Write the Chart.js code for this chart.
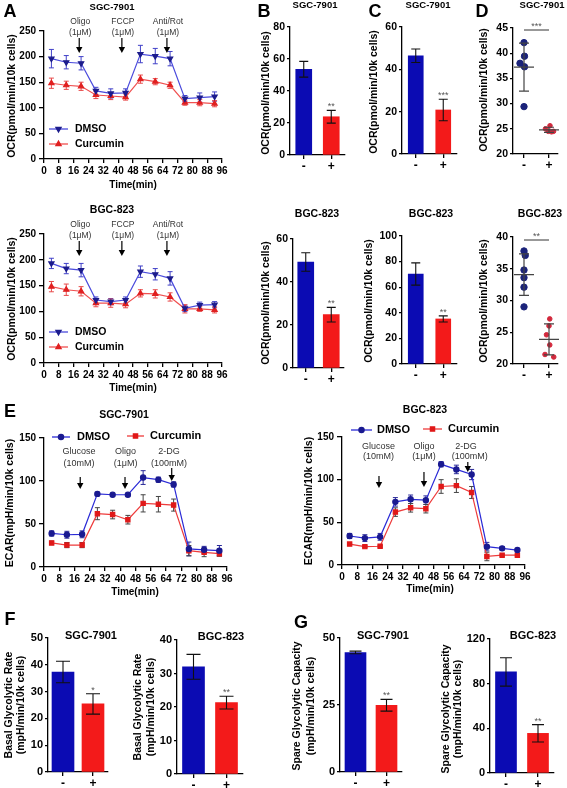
<!DOCTYPE html>
<html>
<head>
<meta charset="utf-8">
<script src="https://cdn.jsdelivr.net/npm/chart.js@4.4.0/dist/chart.umd.min.js"></script>
<style>
  body { margin: 0; background: #fff; }
  #wrap { position: relative; width: 567px; height: 788px; overflow: hidden; }
  #wrap canvas { position: absolute; left: 0; top: 0; }
</style>
</head>
<body>
<div id="wrap"></div>
<script>
// ---- data ----
const times = [4, 12, 20, 28, 36, 44, 52, 60, 68, 76, 84, 92];
const groups = ['-', '+'];

// A: OCR time course
const ocrSgcDmso    = [196, 189, 187, 133, 128, 129, 205, 201, 196, 118, 120, 122];
const ocrSgcDmsoErr = [18, 13, 13, 7, 9, 8, 17, 15, 14, 6, 9, 9];
const ocrSgcCur     = [148, 144, 142, 125, 123, 121, 156, 151, 144, 110, 110, 108];
const ocrSgcCurErr  = [10, 8, 8, 7, 7, 6, 8, 6, 6, 5, 6, 6];
const ocrBgcDmso    = [193, 183, 180, 122, 119, 122, 177, 172, 164, 106, 112, 113];
const ocrBgcDmsoErr = [10, 10, 13, 6, 6, 6, 11, 11, 13, 6, 6, 6];
const ocrBgcCur     = [148, 142, 139, 116, 116, 114, 135, 134, 128, 105, 105, 103];
const ocrBgcCurErr  = [10, 11, 9, 7, 8, 7, 7, 8, 8, 8, 5, 6];

// B, C: OCR bars
const basalSgc = [53.6, 23.9], basalSgcErr = [4.9, 4];
const basalBgc = [49.3, 24.8], basalBgcErr = [4.3, 3.4];
const maxSgc = [46.4, 20.8], maxSgcErr = [3.2, 5.1];
const maxBgc = [70.3, 35.2], maxBgcErr = [8.7, 2.4];

// D: dot plots
const dotSgcDmso = [42.1, 39.4, 38.0, 37.3, 29.4];
const dotSgcDmsoX = [0, 0.02, -0.16, 0.02, 0];
const dotSgcCur = [25.6, 25.0, 24.5, 24.4, 24.5];
const dotSgcCurX = [0.04, -0.14, -0.03, 0.1, 0.18];
const dotBgcDmso = [37.8, 37.1, 34.8, 33.6, 32.1, 29.0];
const dotBgcDmsoX = [0, 0.05, 0, 0, 0, 0];
const dotBgcCur = [27.1, 26.0, 24.6, 23.0, 21.5, 21.1];
const dotBgcCurX = [0.03, 0, -0.1, 0.03, -0.16, 0.19];

// E: ECAR time course
const ecarSgcDmso    = [39, 37.5, 38, 85, 84, 84, 104, 101.5, 96, 21, 20, 19];
const ecarSgcDmsoErr = [3, 4, 4, 2, 1.5, 1.5, 8, 3, 3, 8, 4, 6];
const ecarSgcCur     = [28, 25.5, 25.5, 62, 61, 55, 74, 73, 72, 19, 17, 15.5];
const ecarSgcCurErr  = [2, 3, 3, 7, 5, 5, 10, 9, 7, 6, 5, 3];
const ecarBgcDmso    = [34, 31.5, 33, 74, 77, 76, 118, 112, 106, 21.5, 19.5, 17.5];
const ecarBgcDmsoErr = [3, 4, 4, 5, 5, 5, 3, 5, 6, 5, 2, 2];
const ecarBgcCur     = [24.5, 21.5, 22, 62, 67, 66, 92, 93, 85, 10, 11.5, 11.5];
const ecarBgcCurErr  = [1, 1, 1, 5, 5, 5, 8, 8, 7, 5, 1, 1];

// F, G: glycolysis bars
const glyRateSgc = [37.3, 25.4], glyRateSgcErr = [4, 3.8];
const glyRateBgc = [32, 21.3], glyRateBgcErr = [3.7, 1.9];
const spareSgc = [44.6, 24.9], spareSgcErr = [0.5, 2.2];
const spareBgc = [90.5, 35.5], spareBgcErr = [12.7, 7.8];

// ---- drawing setup ----
const PW = 567, PH = 788;
const CH = PH + 40; // canvas a bit taller than the page so bottom tick labels have room
const FONT = '"Liberation Sans", Arial, Helvetica, sans-serif';
const BLUE_BAR = '#0b0bb3', RED_BAR = '#f31a1a';
Chart.defaults.font.family = FONT;
Chart.defaults.color = '#000';

const wrap = document.getElementById('wrap');

function T(ctx, s, x, y, size, bold, o = {}) {
    ctx.save();
    ctx.font = (bold ? 'bold ' : '') + size + 'px ' + FONT;
    ctx.fillStyle = o.color || '#000';
    ctx.textAlign = o.align || 'center';
    ctx.textBaseline = o.base || 'middle';
    ctx.translate(x, y);
    if (o.rot) ctx.rotate(-Math.PI / 2);
    ctx.fillText(s, 0, 0);
    ctx.restore();
}

function arrowDown(ctx, x, y1, y2) {
    ctx.save();
    ctx.strokeStyle = '#000';
    ctx.fillStyle = '#000';
    ctx.lineWidth = 1.2;
    ctx.beginPath();
    ctx.moveTo(x, y1);
    ctx.lineTo(x, y2 - 5);
    ctx.stroke();
    ctx.beginPath();
    ctx.moveTo(x - 3.2, y2 - 6);
    ctx.lineTo(x + 3.2, y2 - 6);
    ctx.lineTo(x, y2);
    ctx.closePath();
    ctx.fill();
    ctx.restore();
}

function legendRow(ctx, x1, x2, y, lineColor, mark, label, tx, size) {
    ctx.save();
    ctx.strokeStyle = lineColor;
    ctx.lineWidth = 1.3;
    ctx.beginPath();
    ctx.moveTo(x1, y);
    ctx.lineTo(x2, y);
    ctx.stroke();
    ctx.fillStyle = mark.color;
    ctx.strokeStyle = mark.color;
    Chart.helpers.drawPoint(ctx, {pointStyle: mark.style, rotation: mark.rot || 0, radius: mark.r, borderWidth: 1}, (x1 + x2) / 2, y);
    ctx.restore();
    T(ctx, label, tx, y, size, true, {align: 'left'});
}

function drawErrs(c) {
    const ctx = c.ctx, ys = c.scales.y;
    c.data.datasets.forEach((ds, di) => {
        if (!ds.errs) return;
        const meta = c.getDatasetMeta(di);
        meta.data.forEach((el, i) => {
            const v = ds.data[i];
            const val = typeof v === 'object' ? v.y : v;
            const y1 = ys.getPixelForValue(val + ds.errs[i]);
            const y2 = ys.getPixelForValue(val - ds.errs[i]);
            const w = ds.capW;
            ctx.save();
            ctx.strokeStyle = ds.errColor;
            ctx.lineWidth = ds.errWidth || 1;
            ctx.beginPath();
            ctx.moveTo(el.x, y1); ctx.lineTo(el.x, y2);
            ctx.moveTo(el.x - w, y1); ctx.lineTo(el.x + w, y1);
            ctx.moveTo(el.x - w, y2); ctx.lineTo(el.x + w, y2);
            ctx.stroke();
            ctx.restore();
        });
    });
}

const errPlugin = {
    id: 'errs',
    beforeDatasetsDraw(c) { if (c.config.type === 'line') drawErrs(c); },
    afterDatasetsDraw(c) { if (c.config.type !== 'line') drawErrs(c); }
};

function linAxis(min, max, step, size, tickLen = 5, pad = 3) {
    return {
        type: 'linear', min, max,
        ticks: {stepSize: step, autoSkip: false, maxRotation: 0, minRotation: 0, padding: pad, color: '#000', font: {size, weight: 'bold'}},
        grid: {drawOnChartArea: false, drawTicks: true, tickLength: tickLen, color: '#000', lineWidth: 1.3},
        border: {display: true, color: '#000', width: 1.3}
    };
}

function catAxis() {
    return {
        type: 'category', offset: true,
        ticks: {padding: 0, color: '#000', font: {size: 12, weight: 'bold'}, autoSkip: false, maxRotation: 0},
        grid: {offset: false, drawOnChartArea: false, drawTicks: true, tickLength: 4, color: '#000', lineWidth: 1.3},
        border: {display: true, color: '#000', width: 1.3}
    };
}

// every chart gets a full-page canvas; padding puts its plot box at page coords
function makeChart(type, data, box, scales, deco) {
    const cv = document.createElement('canvas');
    cv.width = PW; cv.height = CH;
    wrap.appendChild(cv);
    const yW = 40, xH = 26;
    scales.y.afterFit = s => { s.width = yW; s.paddingTop = 0; s.paddingBottom = 0; };
    scales.x.afterFit = s => { s.height = xH; s.paddingLeft = 0; s.paddingRight = 0; };
    return new Chart(cv, {
        type, data,
        options: {
            responsive: false, animation: false, devicePixelRatio: 1, events: [],
            layout: {padding: {left: box.l - yW, right: PW - box.r, top: box.t, bottom: CH - box.b - xH}},
            plugins: {legend: {display: false}, tooltip: {enabled: false}},
            scales
        },
        plugins: [errPlugin, {id: 'deco', afterDraw: c => deco(c, c.ctx)}]
    });
}

function pts(xs, ys) { return xs.map((x, i) => ({x, y: ys[i]})); }

// ---- time-course line charts ----
function timePanel(o) {
    return makeChart('line', {
        datasets: [
            {data: pts(times, o.dmso), errs: o.dmsoErr, capW: 2.5, errColor: o.dmsoErrColor,
             borderColor: o.dmsoLine, borderWidth: 1.2, pointStyle: o.dmsoMark.style, pointRotation: o.dmsoMark.rot || 0,
             pointRadius: o.dmsoMark.r, pointBackgroundColor: o.dmsoMark.color, pointBorderColor: o.dmsoMark.color, tension: 0},
            {data: pts(times, o.cur), errs: o.curErr, capW: 2.5, errColor: o.curErrColor,
             borderColor: o.curLine, borderWidth: 1.2, pointStyle: o.curMark.style,
             pointRadius: o.curMark.r, pointBackgroundColor: o.curMark.color, pointBorderColor: o.curMark.color, tension: 0}
        ]
    }, o.box, {x: linAxis(0, 96, 8, 10, 4, 2), y: linAxis(0, o.ymax, o.ystep, 10, 5, 3)}, o.deco);
}

const triDown = {style: 'triangle', rot: 180, r: 3, color: '#1c1c8c'};
const triUp = {style: 'triangle', r: 3, color: '#e02020'};
const dotMk = {style: 'circle', r: 2.6, color: '#1a1a90'};
const sqMk = {style: 'rect', r: 3, color: '#e01818'};

function decoOcr(title, letter, t) {
    return (c, ctx) => {
        const xs = c.scales.x;
        if (letter) T(ctx, letter, 10, 12, 18, true);
        T(ctx, title, 112, t - 24, title === 'SGC-7901' ? 9.5 : 10.5, true);
        const ann = [[19, 'Oligo', '(1μM)'], [42, 'FCCP', '(1μM)'], [66.3, 'Anti/Rot', '(1μM)']];
        ann.forEach(a => {
            const x = xs.getPixelForValue(a[0]);
            T(ctx, a[1], x + 1, t - 9, 8.5, false, {color: '#333'});
            T(ctx, a[2], x + 1, t + 2, 8.5, false, {color: '#333'});
            arrowDown(ctx, x, t + 7, t + 22);
        });
        legendRow(ctx, 49, 68, t + 98, '#4b4bdc', triDown, 'DMSO', 75, 10.5);
        legendRow(ctx, 49, 68, t + 113, '#f05050', triUp, 'Curcumin', 75, 10.5);
        T(ctx, 'OCR(pmol/min/10k cells)', 12.5, t + 65, 10.5, true, {rot: true});
        T(ctx, 'Time(min)', 133, t + 154, 10, true);
    };
}

timePanel({box: {l: 44, r: 222, t: 31, b: 159}, ymax: 250, ystep: 50,
    dmso: ocrSgcDmso, dmsoErr: ocrSgcDmsoErr, cur: ocrSgcCur, curErr: ocrSgcCurErr,
    dmsoLine: '#4b4bdc', curLine: '#f05050', dmsoErrColor: '#4040c8', curErrColor: '#e84a4a',
    dmsoMark: triDown, curMark: triUp, deco: decoOcr('SGC-7901', 'A', 31)});

timePanel({box: {l: 44, r: 222, t: 234, b: 363}, ymax: 250, ystep: 50,
    dmso: ocrBgcDmso, dmsoErr: ocrBgcDmsoErr, cur: ocrBgcCur, curErr: ocrBgcCurErr,
    dmsoLine: '#4b4bdc', curLine: '#f05050', dmsoErrColor: '#4040c8', curErrColor: '#e84a4a',
    dmsoMark: triDown, curMark: triUp, deco: decoOcr('BGC-823', null, 234)});

function decoEcar(o) {
    return (c, ctx) => {
        const xs = c.scales.x;
        if (o.letter) T(ctx, o.letter, 10, 412, 18, true);
        T(ctx, o.title, o.titleX, o.titleY, 10.5, true);
        legendRow(ctx, o.leg[0], o.leg[1], o.leg[2], '#2a2ad6', dotMk, 'DMSO', o.leg[3], 11);
        legendRow(ctx, o.leg[4], o.leg[5], o.leg[6], '#ee3b3b', sqMk, 'Curcumin', o.leg[7], 11);
        o.ann.forEach(a => {
            const x = xs.getPixelForValue(a.t);
            T(ctx, a.l1, xs.getPixelForValue(a.tx), a.ty, 9, false, {color: '#333'});
            T(ctx, a.l2, xs.getPixelForValue(a.tx2 || a.tx), a.ty + (o.lineGap), 9, false, {color: '#333'});
            arrowDown(ctx, x, a.y1, a.y2);
        });
        T(ctx, 'ECAR(mpH/min/10k cells)', o.yT[0], o.yT[1], 10.5, true, {rot: true});
        T(ctx, 'Time(min)', o.xT[0], o.xT[1], 10, true);
    };
}

timePanel({box: {l: 44, r: 227, t: 438, b: 567}, ymax: 150, ystep: 50,
    dmso: ecarSgcDmso, dmsoErr: ecarSgcDmsoErr, cur: ecarSgcCur, curErr: ecarSgcCurErr,
    dmsoLine: '#2a2ad6', curLine: '#ee3b3b', dmsoErrColor: '#2a2a9a', curErrColor: '#444',
    dmsoMark: dotMk, curMark: sqMk,
    deco: decoEcar({letter: 'E', title: 'SGC-7901', titleX: 124, titleY: 415, lineGap: 12,
        leg: [52, 70, 437, 77, 127, 144, 436, 150],
        ann: [{t: 19, tx: 18.4, l1: 'Glucose', l2: '(10mM)', ty: 452, y1: 477, y2: 489},
              {t: 42.5, tx: 42.8, l1: 'Oligo', l2: '(1μM)', ty: 452, y1: 477, y2: 489},
              {t: 67, tx: 65.6, l1: '2-DG', l2: '(100mM)', ty: 452, y1: 468, y2: 481}],
        yT: [10, 503], xT: [135, 592]})});

timePanel({box: {l: 342, r: 525, t: 437, b: 565}, ymax: 150, ystep: 50,
    dmso: ecarBgcDmso, dmsoErr: ecarBgcDmsoErr, cur: ecarBgcCur, curErr: ecarBgcCurErr,
    dmsoLine: '#2a2ad6', curLine: '#ee3b3b', dmsoErrColor: '#2a2a9a', curErrColor: '#444',
    dmsoMark: dotMk, curMark: sqMk,
    deco: decoEcar({letter: null, title: 'BGC-823', titleX: 425, titleY: 410, lineGap: 10,
        leg: [351, 372, 430, 377, 423, 442, 429, 448],
        ann: [{t: 19.4, tx: 19.2, l1: 'Glucose', l2: '(10mM)', ty: 447, y1: 476, y2: 488},
              {t: 43, tx: 43, l1: 'Oligo', l2: '(1μM)', ty: 447, y1: 472, y2: 487},
              {t: 66, tx: 65, tx2: 67, l1: '2-DG', l2: '(100mM)', ty: 447, y1: 462, y2: 472}],
        yT: [309, 501], xT: [430, 589]})});

// ---- bar charts ----
function barPanel(o) {
    return makeChart('bar', {
        labels: groups,
        datasets: [{data: o.vals, errs: o.errs, capW: o.capW, errColor: '#111', errWidth: 1.1,
            backgroundColor: [BLUE_BAR, RED_BAR], barThickness: o.barW, borderWidth: 0}]
    }, o.box, {x: catAxis(), y: linAxis(0, o.max, o.step, o.tick, 3, 2)}, (c, ctx) => {
        const el = c.getDatasetMeta(0).data[1];
        const top = c.scales.y.getPixelForValue(o.vals[1] + o.errs[1]);
        T(ctx, o.stars, el.x, top - 1, 9, false, {color: '#555', base: 'alphabetic'});
        if (o.letter) T(ctx, o.letter[0], o.letter[1], o.letter[2], 18, true);
        T(ctx, o.title, o.titleAt[0], o.titleAt[1], o.titleSize, true);
        o.yTitle.forEach(l => T(ctx, l[0], l[1], l[2], 10.5, true, {rot: true}));
    });
}

const OCR_T = 'OCR(pmol/min/10k cells)';
barPanel({box: {l: 290, r: 345, t: 27, b: 155}, vals: basalSgc, errs: basalSgcErr, max: 80, step: 20, tick: 10.5,
    barW: 16, capW: 4.5, stars: '**', letter: ['B', 264, 12], title: 'SGC-7901', titleAt: [315, 5], titleSize: 9.5,
    yTitle: [[OCR_T, 266, 93]]});
barPanel({box: {l: 293, r: 344, t: 239, b: 368}, vals: basalBgc, errs: basalBgcErr, max: 60, step: 20, tick: 10.5,
    barW: 16, capW: 4.5, stars: '**', title: 'BGC-823', titleAt: [317, 214], titleSize: 10.5,
    yTitle: [[OCR_T, 266, 303]]});
barPanel({box: {l: 402, r: 457, t: 27, b: 154}, vals: maxSgc, errs: maxSgcErr, max: 60, step: 20, tick: 10.5,
    barW: 15, capW: 4.5, stars: '***', letter: ['C', 375, 12], title: 'SGC-7901', titleAt: [428, 5], titleSize: 9.5,
    yTitle: [[OCR_T, 374, 92]]});
barPanel({box: {l: 402, r: 457, t: 236, b: 364}, vals: maxBgc, errs: maxBgcErr, max: 100, step: 20, tick: 10.5,
    barW: 15, capW: 4.5, stars: '**', title: 'BGC-823', titleAt: [431, 214], titleSize: 10.5,
    yTitle: [[OCR_T, 369, 301]]});

barPanel({box: {l: 48, r: 108, t: 638, b: 772}, vals: glyRateSgc, errs: glyRateSgcErr, max: 50, step: 10, tick: 11,
    barW: 22, capW: 7, stars: '*', letter: ['F', 10, 620], title: 'SGC-7901', titleAt: [91, 636], titleSize: 11,
    yTitle: [['Basal Glycolytic Rate', 9, 705], ['(mpH/min/10k cells)', 21, 705]]});
barPanel({box: {l: 177, r: 243, t: 640, b: 774}, vals: glyRateBgc, errs: glyRateBgcErr, max: 40, step: 10, tick: 11,
    barW: 22, capW: 7, stars: '**', title: 'BGC-823', titleAt: [221, 637], titleSize: 11,
    yTitle: [['Basal Glycolytic Rate', 138, 707], ['(mpH/min/10k cells)', 151, 707]]});
barPanel({box: {l: 340, r: 402, t: 638, b: 772}, vals: spareSgc, errs: spareSgcErr, max: 50, step: 25, tick: 11,
    barW: 21, capW: 6, stars: '**', letter: ['G', 301, 623], title: 'SGC-7901', titleAt: [383, 636], titleSize: 11,
    yTitle: [['Spare Glycolytic Capacity', 297, 706], ['(mpH/min/10k cells)', 311, 706]]});
barPanel({box: {l: 490, r: 554, t: 639, b: 773}, vals: spareBgc, errs: spareBgcErr, max: 120, step: 40, tick: 11,
    barW: 21, capW: 6, stars: '**', title: 'BGC-823', titleAt: [533, 636], titleSize: 11,
    yTitle: [['Spare Glycolytic Capacity', 446, 709], ['(mpH/min/10k cells)', 458, 709]]});

// ---- dot plots ----
function stats(a) {
    const m = a.reduce((s, v) => s + v, 0) / a.length;
    const sd = Math.sqrt(a.reduce((s, v) => s + (v - m) * (v - m), 0) / (a.length - 1));
    return [m, sd];
}

function dotPanel(o) {
    const xAx = linAxis(-0.44, 1.36, 1, 12, 4, 0);
    xAx.afterBuildTicks = s => { s.ticks = [{value: 0}, {value: 1}]; };
    xAx.ticks.callback = v => groups[v];
    return makeChart('scatter', {
        datasets: [
            {data: pts(o.dmsoX, o.dmso), pointRadius: 3.2, pointBackgroundColor: '#1b237a', pointBorderColor: '#1b237a'},
            {data: pts(o.curX.map(v => v + 1), o.cur), pointRadius: 2.3, pointBackgroundColor: '#d2283c', pointBorderColor: '#d2283c'}
        ]
    }, o.box, {x: xAx, y: linAxis(20, o.max, 5, 10.5, 3, 2)}, (c, ctx) => {
        const xs = c.scales.x, ys = c.scales.y;
        [[o.dmso, 0], [o.cur, 1]].forEach(([arr, g]) => {
            const [m, sd] = stats(arr);
            const x = xs.getPixelForValue(g);
            const ym = ys.getPixelForValue(m), yh = ys.getPixelForValue(m + sd), yl = ys.getPixelForValue(m - sd);
            ctx.save();
            ctx.strokeStyle = '#444';
            ctx.lineWidth = 1.2;
            ctx.beginPath();
            ctx.moveTo(x - 10, ym); ctx.lineTo(x + 10, ym);
            ctx.moveTo(x, yh); ctx.lineTo(x, yl);
            ctx.moveTo(x - 5, yh); ctx.lineTo(x + 5, yh);
            ctx.moveTo(x - 5, yl); ctx.lineTo(x + 5, yl);
            ctx.stroke();
            ctx.restore();
        });
        const x0 = xs.getPixelForValue(0), x1 = xs.getPixelForValue(1);
        ctx.save();
        ctx.strokeStyle = '#333';
        ctx.lineWidth = 1;
        ctx.beginPath();
        ctx.moveTo(x0, o.sigY); ctx.lineTo(x1, o.sigY);
        ctx.stroke();
        ctx.restore();
        T(ctx, o.stars, (x0 + x1) / 2, o.sigY - 1, 9, false, {color: '#555', base: 'alphabetic'});
        if (o.letter) T(ctx, o.letter, 482, 12, 18, true);
        T(ctx, o.title, o.titleAt[0], o.titleAt[1], o.titleSize, true);
        T(ctx, OCR_T, 484, o.yTitleY, 10.5, true, {rot: true});
    });
}

dotPanel({box: {l: 513, r: 558, t: 28, b: 154}, max: 45, dmso: dotSgcDmso, dmsoX: dotSgcDmsoX, cur: dotSgcCur, curX: dotSgcCurX,
    sigY: 30, stars: '***', letter: 'D', title: 'SGC-7901', titleAt: [542, 5], titleSize: 9.5, yTitleY: 90});
dotPanel({box: {l: 513, r: 558, t: 237, b: 364}, max: 40, dmso: dotBgcDmso, dmsoX: dotBgcDmsoX, cur: dotBgcCur, curX: dotBgcCurX,
    sigY: 240, stars: '**', letter: null, title: 'BGC-823', titleAt: [540, 214], titleSize: 10.5, yTitleY: 301});
</script>
</body>
</html>
